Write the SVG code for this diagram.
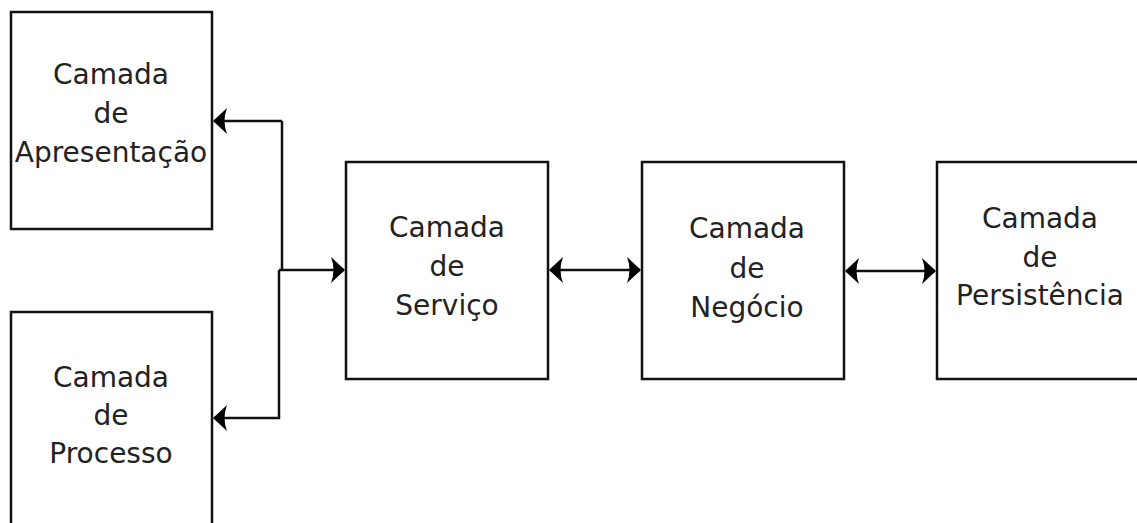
<svg xmlns="http://www.w3.org/2000/svg" width="1137" height="523" viewBox="0 0 1137 523">
<style>
.box{fill:#fff;stroke:#111;stroke-width:2.5}
.lbl{font-family:"DejaVu Sans",sans-serif;font-size:28px;fill:#222;text-anchor:middle}
.conn{fill:none;stroke:#111;stroke-width:2.5}
</style>
<defs>
<marker id="ah" viewBox="0 0 14 26" refX="13" refY="13" markerWidth="14" markerHeight="26" markerUnits="userSpaceOnUse" orient="auto-start-reverse">
<path d="M0,0 L14,13 L0,26 Q5,13 0,0 Z" fill="#000"/>
</marker>
</defs>
<rect width="1137" height="523" fill="#fff"/>
<g id="apresentacao">
<rect class="box" x="11" y="12" width="201" height="217"/>
<text class="lbl" x="111" y="84">Camada</text>
<text class="lbl" x="111" y="123">de</text>
<text class="lbl" x="111" y="162">Apresentação</text>
</g>
<g id="processo">
<rect class="box" x="11" y="312" width="201" height="230"/>
<text class="lbl" x="111" y="387">Camada</text>
<text class="lbl" x="111" y="425">de</text>
<text class="lbl" x="111" y="463">Processo</text>
</g>
<g id="servico">
<rect class="box" x="346" y="162" width="202" height="217"/>
<text class="lbl" x="447" y="237">Camada</text>
<text class="lbl" x="447" y="276">de</text>
<text class="lbl" x="447" y="315">Serviço</text>
</g>
<g id="negocio">
<rect class="box" x="642" y="162" width="202" height="217"/>
<text class="lbl" x="747" y="238">Camada</text>
<text class="lbl" x="747" y="278">de</text>
<text class="lbl" x="747" y="317">Negócio</text>
</g>
<g id="persistencia">
<rect class="box" x="937" y="162" width="210" height="217"/>
<text class="lbl" x="1040" y="228">Camada</text>
<text class="lbl" x="1040" y="267">de</text>
<text class="lbl" x="1040" y="305">Persistência</text>
</g>
<g id="connectors">
<path class="conn" d="M282,121 H214" marker-end="url(#ah)"/>
<path class="conn" d="M282,121 V270"/>
<path class="conn" d="M279,270 H344" marker-end="url(#ah)"/>
<path class="conn" d="M279,270 V418 H214" marker-end="url(#ah)"/>
<path class="conn" d="M550,270 H640" marker-start="url(#ah)" marker-end="url(#ah)"/>
<path class="conn" d="M846,271 H935" marker-start="url(#ah)" marker-end="url(#ah)"/>
</g>
</svg>
